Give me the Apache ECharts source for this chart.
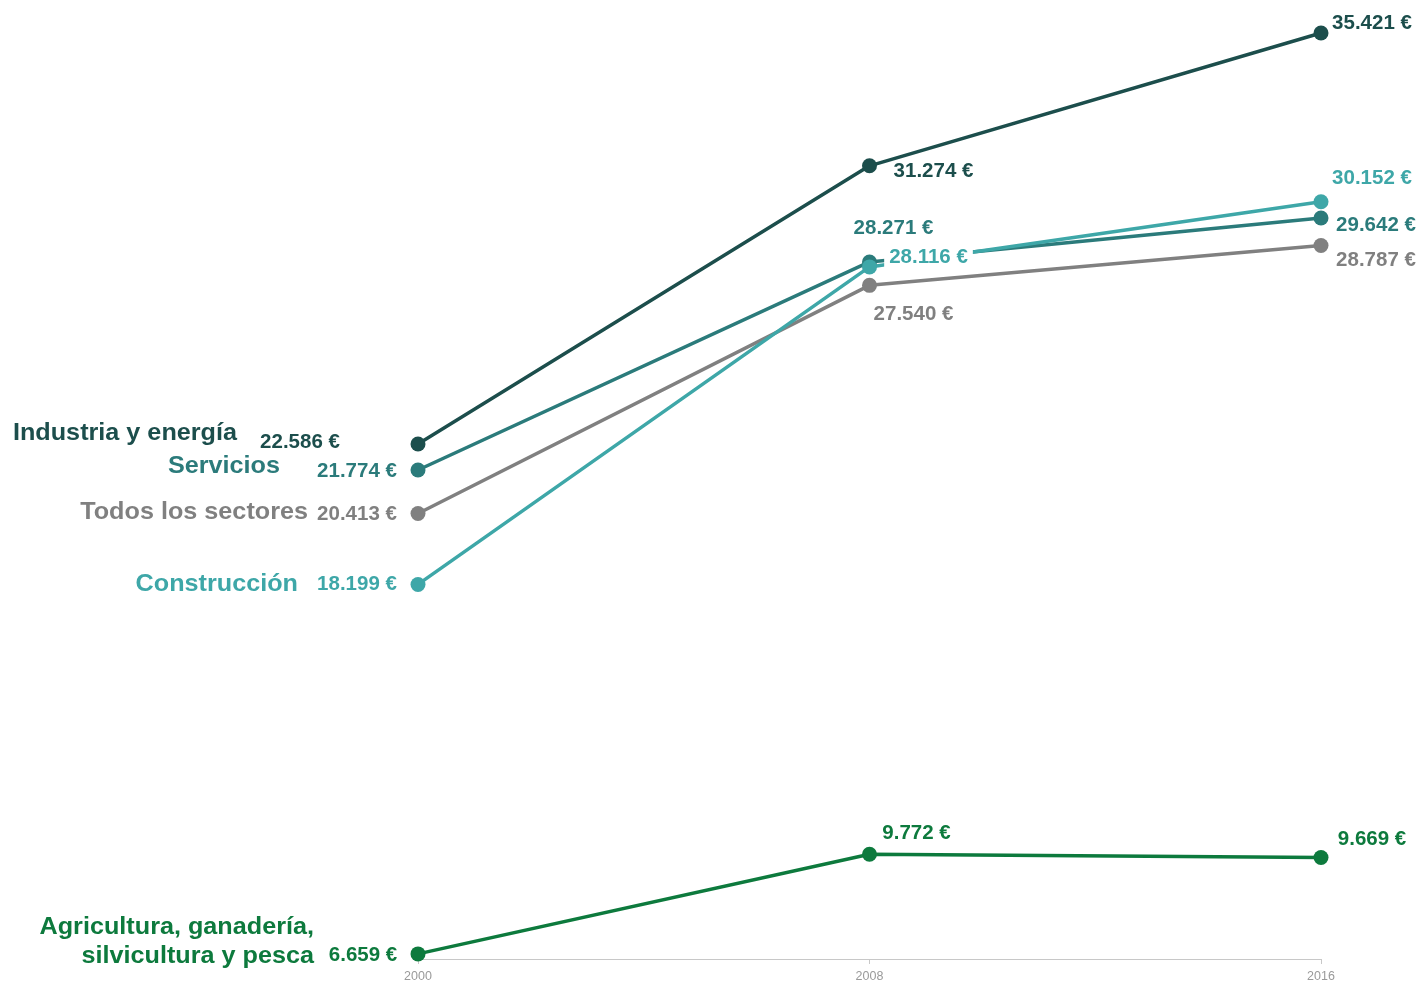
<!DOCTYPE html>
<html>
<head>
<meta charset="utf-8">
<script src="https://cdn.jsdelivr.net/npm/echarts@6/dist/echarts.min.js"></script>
<style>
html,body{margin:0;padding:0;background:#fff;}
#chart{width:1422px;height:984px;}
</style>
</head>
<body>
<div id="chart"></div>
<script>
// ---- data ----
const years = ['2000', '2008', '2016'];
const seriesNames = ['Industria y energía', 'Servicios', 'Todos los sectores', 'Construcción', 'Agricultura, ganadería, silvicultura y pesca'];
const industria = [22586, 31274, 35421];
const servicios = [21774, 28271, 29642];
const todos = [20413, 27540, 28787];
const construccion = [18199, 28116, 30152];
const agricultura = [6659, 9772, 9669];
const nameLabels = ['Industria y energía', 'Servicios', 'Todos los sectores', 'Construcción', 'Agricultura, ganadería,\nsilvicultura y pesca'];

// ---- styling / layout (not data) ----
const colors = ['#1c4e4c', '#2b7b7b', '#808080', '#3ea7a8', '#0d7a3d'];
const valueOffsets = [
  [[-118, -2], [64, 6], [51, -10]],
  [[-61, 1], [24, -34], [55, 7]],
  [[-61, 1], [44, 29], [55, 15]],
  [[-61, 0], [59, -10], [51, -23]],
  [[-55, 1], [47, -21], [51, -18]]
];
const labelBg = [
  [null, null, null],
  [null, null, null],
  [null, null, null],
  [null, '#ffffff', null],
  [null, null, null]
];
const nameOffsets = [[-181, -11], [-138, -4], [-110, -1], [-120, 0], [-104, -12]];
const allValues = [industria, servicios, todos, construccion, agricultura];
const FONT = "'Liberation Sans', Arial, sans-serif";

function fmt(v) {
  return v.toString().replace(/\B(?=(\d{3})+(?!\d))/g, '.') + ' €';
}

const chart = echarts.init(document.getElementById('chart'), null, {renderer: 'canvas'});

const series = allValues.map((vals, si) => ({
  name: seriesNames[si],
  type: 'line',
  data: vals.map((v, i) => ({
    value: v,
    label: {
      offset: valueOffsets[si][i],
      backgroundColor: labelBg[si][i] || 'transparent',
      padding: labelBg[si][i] ? [2, 5] : 0
    }
  })),
  color: colors[si],
  symbol: 'circle',
  symbolSize: 15,
  lineStyle: {width: 3.5, color: colors[si]},
  itemStyle: {color: colors[si]},
  z: 2,
  label: {
    show: true,
    position: 'inside',
    align: 'center',
    verticalAlign: 'middle',
    formatter: p => fmt(p.value),
    color: colors[si],
    fontFamily: FONT,
    fontWeight: 'bold',
    fontSize: 20.5
  },
  emphasis: {disabled: true},
  animation: false
}));

const option = {
  backgroundColor: '#ffffff',
  animation: false,
  grid: {left: 418, right: 101, top: 30.5, bottom: 25},
  xAxis: {
    type: 'category',
    data: years,
    boundaryGap: false,
    axisLine: {lineStyle: {color: '#c8c8c8', width: 1}},
    axisTick: {show: true, length: 5, lineStyle: {color: '#c8c8c8'}},
    axisLabel: {color: '#9a9a9a', fontSize: 12.5, fontFamily: FONT, margin: 11}
  },
  yAxis: {
    type: 'value',
    min: 6500,
    max: 35500,
    show: false,
    splitLine: {show: false}
  },
  series: series
};
chart.setOption(option);

// series-name labels placed next to the first point, through the chart's scales
const graphics = allValues.map((vals, si) => {
  const pt = chart.convertToPixel({gridIndex: 0}, [0, vals[0]]);
  return {
    type: 'text',
    x: pt[0] + nameOffsets[si][0],
    y: pt[1] + nameOffsets[si][1],
    scaleX: 1.05,
    style: {
      text: nameLabels[si],
      fill: colors[si],
      font: 'bold 24px ' + FONT,
      align: 'right',
      verticalAlign: 'middle',
      lineHeight: 29
    },
    z: 10
  };
});
chart.setOption({graphic: graphics});
</script>
</body>
</html>
